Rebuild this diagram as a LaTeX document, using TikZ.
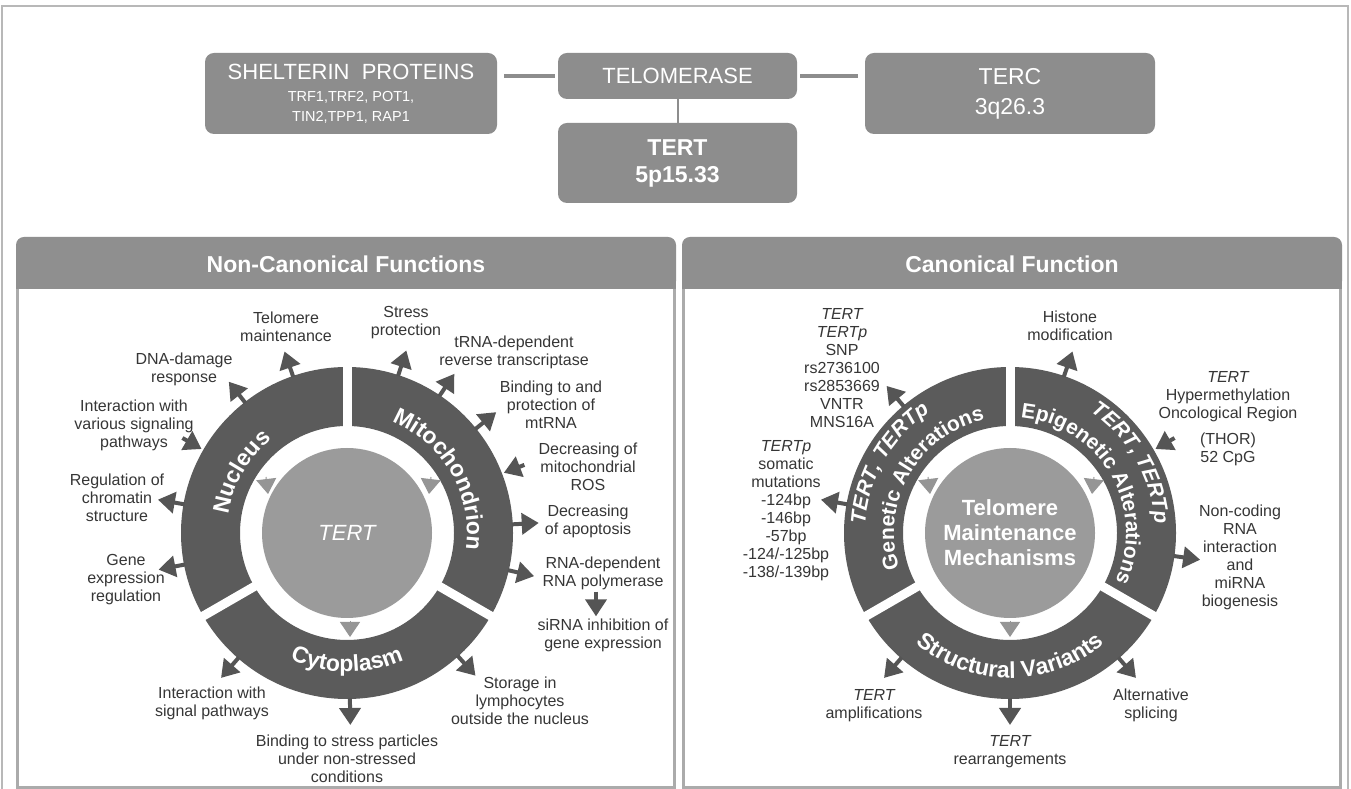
\documentclass[tikz,border=0pt]{standalone}
\usepackage{fontspec}
\setmainfont{Liberation Sans}
\usetikzlibrary{arrows.meta,calc,decorations.text}

\definecolor{boxgray}{HTML}{8D8D8D}
\definecolor{hdrgray}{HTML}{8F8F8F}
\definecolor{ringgray}{HTML}{5B5B5B}
\definecolor{circgray}{HTML}{9B9B9B}
\definecolor{trigray}{HTML}{959595}
\definecolor{arrowgray}{HTML}{555555}
\definecolor{txtgray}{HTML}{363636}
\definecolor{bordergray}{HTML}{ABABAB}
\definecolor{framegray}{HTML}{B8B8B8}

\newcommand{\lblfont}{\fontsize{16}{18}\selectfont}
\newcommand{\hdrfont}{\fontsize{23}{25}\selectfont\bfseries}
\newcommand{\ringfont}{\fontsize{23}{23}\selectfont\bfseries\color{white}}
\newcommand{\ringfontb}{\fontsize{21}{21}\selectfont\bfseries\color{white}}

\tikzset{
  topbox/.style={fill=boxgray, rounded corners=9pt, text=white, align=center, inner sep=0pt},
  lbl/.style={text=txtgray, font=\lblfont, align=center, inner sep=0pt},
  outarrow/.style={draw=arrowgray, line width=4pt, -{Triangle[length=17pt,width=21pt]}},
  innertri/.style={draw=trigray, line width=1pt, -{Triangle[length=15pt,width=20pt]}},
  link/.style={draw=boxgray, line width=4.5pt},
  ringgap/.style={white, line width=9pt},
}

\begin{document}
\begin{tikzpicture}[x=1pt,y=1pt]
			\fill[white] (0,0) rectangle (1351,789);
			\useasboundingbox (0,0) rectangle (1351,789);
			\draw[framegray, line width=1.5pt] (2,0) -- (2,783) -- (1348,783) -- (1348,0);
			
			% top boxes
			\node[topbox, minimum width=292pt, minimum height=81pt, font=\fontsize{14.5}{20}\selectfont] (shel) at (351,695.5)
				{{\fontsize{22}{22}\selectfont SHELTERIN\ \ PROTEINS}\\[2pt]TRF1,TRF2, POT1,\\TIN2,TPP1, RAP1};
			\node[topbox, minimum width=239pt, minimum height=46pt, font=\fontsize{22}{22}\selectfont] (telo) at (677.5,713) {TELOMERASE};
			\node[topbox, minimum width=290pt, minimum height=81pt, font=\fontsize{23}{30}\selectfont] (terc) at (1010,695.5) {TERC\\3q26.3};
			\node[topbox, minimum width=239pt, minimum height=80pt, font=\fontsize{23}{27}\selectfont\bfseries] (tert) at (677.5,626) {TERT\\5p15.33};
			
			\draw[link, shorten <=3pt, shorten >=7pt] (telo.west) -- (telo.west -| shel.east);
			\draw[link, shorten <=3pt, shorten >=7pt] (telo.east) -- (telo.east -| terc.west);
			\draw[boxgray, line width=2pt] (telo.south) -- (tert.north);
			
			% panels
			\fill[hdrgray, rounded corners=8pt] (16,500) rectangle (676,552);
			\fill[hdrgray] (16,500) rectangle (676,515);
			\draw[bordergray, line width=3pt] (17.5,500) -- (17.5,1.5) -- (674.5,1.5) -- (674.5,500);
			\fill[hdrgray, rounded corners=8pt] (682,500) rectangle (1342,552);
			\fill[hdrgray] (682,500) rectangle (1342,515);
			\draw[bordergray, line width=3pt] (683.5,500) -- (683.5,1.5) -- (1340.5,1.5) -- (1340.5,500);
			\node[font=\hdrfont, text=white] (nchead) at (346,525) {Non-Canonical Functions};
			\node[font=\hdrfont, text=white] (chead) at (1012,525) {Canonical Function};
			
			% left ring
			\coordinate (L) at (347,256);
			\fill[ringgray, even odd rule] (L) circle[radius=166] (L) circle[radius=107];
			\draw[ringgap] ($(L)+(90:100)$) -- ($(L)+(90:172)$);
			\draw[ringgap] ($(L)+(210:100)$) -- ($(L)+(210:172)$);
			\draw[ringgap] ($(L)+(330:100)$) -- ($(L)+(330:172)$);
			\fill[circgray] (L) circle[radius=85];
			\node[font=\fontsize{22}{22}\selectfont\itshape, text=white] (tertc) at (L) {TERT};
			
			\path[decorate, decoration={text along path, text={|\ringfont|Nucleus}, text align=center}]
				($(L)+(205:120)$) arc[start angle=205, end angle=95, radius=120];
			\path[decorate, decoration={text along path, text={|\ringfont|Mitochondrion}, text align=center}]
				($(L)+(85:120)$) arc[start angle=85, end angle=-25, radius=120];
			\path[decorate, decoration={text along path, text={|\ringfont|Cytoplasm}, text align=center}]
				($(L)+(215:139)$) arc[start angle=215, end angle=325, radius=139];
			
			\draw[innertri] ($(L)+(-81,56)$) -- ($(L)+(-79,39)$);
			\draw[innertri] ($(L)+(84,56)$) -- ($(L)+(82,39)$);
			\draw[innertri] ($(L)+(3,-88)$) -- ($(L)+(3,-104)$);
			
			% left labels
			\node[lbl] (tel) at (286,462) {Telomere\\maintenance};
			\node[lbl] (dna) at (184,420) {DNA-damage\\response};
			\node[lbl] (sig) at (134,364) {Interaction with\\various signaling\\pathways};
			\node[lbl] (chrom) at (117,291) {Regulation of\\chromatin\\structure};
			\node[lbl] (gene) at (126,209) {Gene\\expression\\regulation};
			\node[lbl] (sigp) at (212,86) {Interaction with\\signal pathways};
			\node[lbl] (bind) at (347,30) {Binding to stress particles\\under non-stressed\\conditions};
			\node[lbl] (stor) at (520,88) {Storage in\\lymphocytes\\outside the nucleus};
			\node[lbl] (stress) at (406,466) {Stress\\protection};
			\node[lbl] (trna) at (514,437) {tRNA-dependent\\reverse transcriptase};
			\node[lbl] (mt) at (551,384) {Binding to and\\protection of\\mtRNA};
			\node[lbl] (ros) at (588,322) {Decreasing of\\mitochondrial\\ROS};
			\node[lbl] (apo) at (588,268) {Decreasing\\of apoptosis};
			\node[lbl] (rdrp) at (603,216) {RNA-dependent\\RNA polymerase};
			\node[lbl] (sirna) at (603,154) {siRNA inhibition of\\gene expression};
			
			% left arrows
			\coordinate (tel0) at ($(L)+(109:165)$); \coordinate (tel1) at ($(L)+(109:192)$);
			\coordinate (dna0) at ($(L)+(128:165)$); \coordinate (dna1) at ($(L)+(128:192)$);
			\coordinate (sig0) at ($(L)+(150:190)$); \coordinate (sig1) at ($(L)+(150:168)$);
			\coordinate (chrom0) at ($(L)+(170:165)$); \coordinate (chrom1) at ($(L)+(170:192)$);
			\coordinate (gene0) at ($(L)+(191:165)$); \coordinate (gene1) at ($(L)+(191:192)$);
			\coordinate (sigp0) at ($(L)+(229:165)$); \coordinate (sigp1) at ($(L)+(229:192)$);
			\coordinate (bind0) at ($(L)+(271:165)$); \coordinate (bind1) at ($(L)+(271:192)$);
			\coordinate (stor0) at ($(L)+(312:165)$); \coordinate (stor1) at ($(L)+(312:192)$);
			\coordinate (stress0) at ($(L)+(72:165)$); \coordinate (stress1) at ($(L)+(72:192)$);
			\coordinate (trna0) at ($(L)+(56:165)$); \coordinate (trna1) at ($(L)+(56:192)$);
			\coordinate (mt0) at ($(L)+(39:165)$); \coordinate (mt1) at ($(L)+(39:192)$);
			\coordinate (ros0) at ($(L)+(21:190)$); \coordinate (ros1) at ($(L)+(21:168)$);
			\coordinate (apo0) at ($(L)+(3:165)$); \coordinate (apo1) at ($(L)+(3:192)$);
			\coordinate (rdrp0) at ($(L)+(-13:165)$); \coordinate (rdrp1) at ($(L)+(-13:192)$);
			\draw[outarrow] (tel0) -- (tel1);
			\draw[outarrow] (dna0) -- (dna1);
			\draw[outarrow] (sig0) -- (sig1);
			\draw[outarrow] (chrom0) -- (chrom1);
			\draw[outarrow] (gene0) -- (gene1);
			\draw[outarrow] (sigp0) -- (sigp1);
			\draw[outarrow] (bind0) -- (bind1);
			\draw[outarrow] (stor0) -- (stor1);
			\draw[outarrow] (stress0) -- (stress1);
			\draw[outarrow] (trna0) -- (trna1);
			\draw[outarrow] (mt0) -- (mt1);
			\draw[outarrow] (ros0) -- (ros1);
			\draw[outarrow] (apo0) -- (apo1);
			\draw[outarrow] (rdrp0) -- (rdrp1);
			\draw[outarrow, shorten <=2pt, shorten >=2pt] ([xshift=-7pt]rdrp.south) -- ([xshift=-7pt]sirna.north);
			
			% right ring
			\coordinate (R) at (1010,256);
			\fill[ringgray, even odd rule] (R) circle[radius=166] (R) circle[radius=107];
			\draw[ringgap] ($(R)+(90:100)$) -- ($(R)+(90:172)$);
			\draw[ringgap] ($(R)+(210:100)$) -- ($(R)+(210:172)$);
			\draw[ringgap] ($(R)+(330:100)$) -- ($(R)+(330:172)$);
			\fill[circgray] (R) circle[radius=85];
			\node[font=\fontsize{22}{25}\selectfont\bfseries, text=white, align=center] (tmm) at (R) {Telomere\\Maintenance\\Mechanisms};
			
			\path[decorate, decoration={text along path, text={|\ringfontb|Genetic Alterations}, text align=center}]
				($(R)+(212:116)$) arc[start angle=212, end angle=88, radius=116];
			\path[decorate, decoration={text along path, text={|\ringfontb\itshape|TERT, TERTp}, text align=center}]
				($(R)+(212:145)$) arc[start angle=212, end angle=88, radius=145];
			\path[decorate, decoration={text along path, text={|\ringfontb|Epigenetic Alterations}, text align=center}]
				($(R)+(88:116)$) arc[start angle=88, end angle=-28, radius=116];
			\path[decorate, decoration={text along path, text={|\ringfontb\itshape|TERT, TERTp}, text align=center}]
				($(R)+(88:145)$) arc[start angle=88, end angle=-28, radius=145];
			\path[decorate, decoration={text along path, text={|\ringfont|Structural Variants}, text align=center}]
				($(R)+(212:145)$) arc[start angle=212, end angle=328, radius=145];
			
			\draw[innertri] ($(R)+(-82,56)$) -- ($(R)+(-80,39)$);
			\draw[innertri] ($(R)+(84,56)$) -- ($(R)+(82,39)$);
			\draw[innertri] ($(R)+(0,-88)$) -- ($(R)+(0,-104)$);
			
			% right labels
			\node[lbl] (snp) at (842,421) {{\itshape TERT}\\{\itshape TERTp}\\SNP\\rs2736100\\rs2853669\\VNTR\\MNS16A};
			\node[lbl] (som) at (786,278) {{\itshape TERTp}\\somatic\\mutations\\-124bp\\-146bp\\-57bp\\-124/-125bp\\-138/-139bp};
			\node[lbl] (hist) at (1070,463) {Histone\\modification};
			\node[lbl] (thor) at (1228,370) {{\itshape TERT}\\Hypermethylation\\Oncological Region\\[8pt](THOR)\\52 CpG};
			\node[lbl] (nonc) at (1240,232) {Non-coding\\RNA\\interaction\\and\\miRNA\\biogenesis};
			\node[lbl] (amp) at (874,83) {{\itshape TERT}\\amplifications};
			\node[lbl] (rearr) at (1010,37) {{\itshape TERT}\\rearrangements};
			\node[lbl] (alt) at (1151,84) {Alternative\\splicing};
			
			% right arrows
			\coordinate (snp0) at ($(R)+(130:165)$); \coordinate (snp1) at ($(R)+(130:192)$);
			\coordinate (som0) at ($(R)+(170:165)$); \coordinate (som1) at ($(R)+(170:192)$);
			\coordinate (hist0) at ($(R)+(71:165)$); \coordinate (hist1) at ($(R)+(71:192)$);
			\coordinate (thor0) at ($(R)+(30:190)$); \coordinate (thor1) at ($(R)+(30:168)$);
			\coordinate (nonc0) at ($(R)+(-8:165)$); \coordinate (nonc1) at ($(R)+(-8:192)$);
			\coordinate (amp0) at ($(R)+(229:165)$); \coordinate (amp1) at ($(R)+(229:192)$);
			\coordinate (rearr0) at ($(R)+(270:165)$); \coordinate (rearr1) at ($(R)+(270:192)$);
			\coordinate (alt0) at ($(R)+(311:165)$); \coordinate (alt1) at ($(R)+(311:192)$);
			\draw[outarrow] (snp0) -- (snp1);
			\draw[outarrow] (som0) -- (som1);
			\draw[outarrow] (hist0) -- (hist1);
			\draw[outarrow] (thor0) -- (thor1);
			\draw[outarrow] (nonc0) -- (nonc1);
			\draw[outarrow] (amp0) -- (amp1);
			\draw[outarrow] (rearr0) -- (rearr1);
			\draw[outarrow] (alt0) -- (alt1);
\end{tikzpicture}
\end{document}
